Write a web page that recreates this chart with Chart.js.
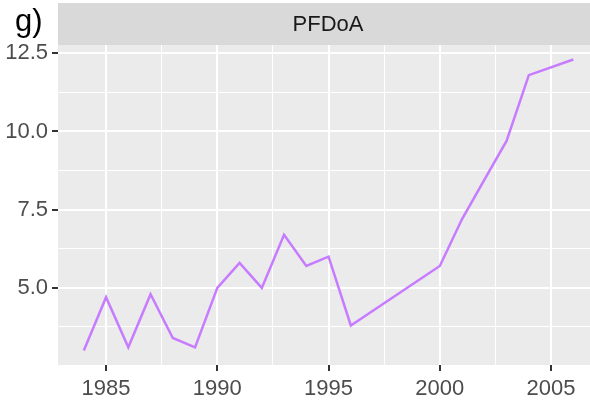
<!DOCTYPE html>
<html>
<head>
<meta charset="utf-8">
<script src="https://cdn.jsdelivr.net/npm/chart.js@4/dist/chart.umd.min.js"></script>
<style>
  html, body { margin:0; padding:0; background:#ffffff; overflow:hidden; }
  #wrap { position:relative; width:590px; height:405px; }
  canvas { display:block; }
</style>
</head>
<body>
<div id="wrap"><canvas id="c" width="590" height="405"></canvas></div>
<script>
// ---- data ----
const panelLabel = "g)";
const facetTitle = "PFDoA";
const years  = [1984, 1985, 1986, 1987, 1988, 1989, 1990, 1991, 1992, 1993, 1994, 1995, 1996, 2000, 2001, 2002, 2003, 2004, 2006];
const values = [3.0, 4.7, 3.1, 4.8, 3.4, 3.1, 5.0, 5.8, 5.0, 6.7, 5.7, 6.0, 3.8, 5.7, 7.2, 8.45, 9.7, 11.8, 12.3];
const xMajorTicks = [1985, 1990, 1995, 2000, 2005];
const xMinorTicks = [1987.5, 1992.5, 1997.5, 2002.5];
const yMajorTicks = [5.0, 7.5, 10.0, 12.5];
const yMinorTicks = [3.75, 6.25, 8.75, 11.25];

const lineColor = '#c77cff';
const xTickValues = xMajorTicks.concat(xMinorTicks).sort((a,b)=>a-b);
const yTickValues = yMajorTicks.concat(yMinorTicks).sort((a,b)=>a-b);

const points = years.map((y, i) => ({ x: y, y: values[i] }));

const FONT = '"Liberation Sans", Arial, sans-serif';

const bgPlugin = {
  id: 'ggbg',
  beforeDraw(chart) {
    const { ctx, chartArea: a } = chart;
    ctx.save();
    ctx.fillStyle = '#ebebeb';
    ctx.fillRect(a.left, a.top, a.right - a.left, a.bottom - a.top);
    // facet strip
    ctx.fillStyle = '#d9d9d9';
    ctx.fillRect(a.left, 3, a.right - a.left, a.top - 3);
    ctx.fillStyle = '#1a1a1a';
    ctx.font = '22px ' + FONT;
    ctx.textAlign = 'center';
    ctx.textBaseline = 'middle';
    ctx.fillText(facetTitle, 328, 25);
    // panel label
    ctx.fillStyle = '#000000';
    ctx.font = '31px ' + FONT;
    ctx.textAlign = 'left';
    ctx.textBaseline = 'alphabetic';
    ctx.fillText(panelLabel, 15, 31);
    ctx.restore();
  }
};

const isMajor = (list, v) => list.some(m => Math.abs(m - v) < 1e-6);

new Chart(document.getElementById('c'), {
  type: 'line',
  data: {
    datasets: [{
      data: points,
      borderColor: lineColor,
      borderWidth: 2.5,
      pointRadius: 0,
      fill: false,
      tension: 0
    }]
  },
  options: {
    responsive: false,
    animation: false,
    layout: { padding: { top: 45, right: 0, left: 0, bottom: 0 } },
    plugins: { legend: { display: false }, tooltip: { enabled: false } },
    scales: {
      x: {
        type: 'linear',
        min: 1982.84,
        max: 2006.75,
        afterBuildTicks: s => { s.ticks = xTickValues.map(v => ({ value: v })); },
        afterFit: s => { s.height = 40; },
        border: { display: false },
        grid: {
          color: '#ffffff',
          lineWidth: c => isMajor(xMajorTicks, c.tick.value) ? 2 : 1,
          tickColor: c => isMajor(xMajorTicks, c.tick.value) ? '#333333' : 'rgba(0,0,0,0)',
          tickLength: 6,
          drawTicks: true
        },
        ticks: {
          autoSkip: false,
          maxRotation: 0,
          padding: 5,
          color: '#4d4d4d',
          font: { family: FONT, size: 22 },
          callback: v => isMajor(xMajorTicks, v) ? String(v) : ''
        }
      },
      y: {
        type: 'linear',
        min: 2.535,
        max: 12.765,
        afterBuildTicks: s => { s.ticks = yTickValues.map(v => ({ value: v })); },
        afterFit: s => { s.width = 58; },
        border: { display: false },
        grid: {
          color: '#ffffff',
          lineWidth: c => isMajor(yMajorTicks, c.tick.value) ? 2 : 1,
          tickColor: c => isMajor(yMajorTicks, c.tick.value) ? '#333333' : 'rgba(0,0,0,0)',
          tickLength: 6,
          drawTicks: true
        },
        ticks: {
          autoSkip: false,
          padding: 4,
          color: '#4d4d4d',
          font: { family: FONT, size: 22 },
          callback: v => isMajor(yMajorTicks, v) ? v.toFixed(1) : ''
        }
      }
    }
  },
  plugins: [bgPlugin]
});
</script>
</body>
</html>
